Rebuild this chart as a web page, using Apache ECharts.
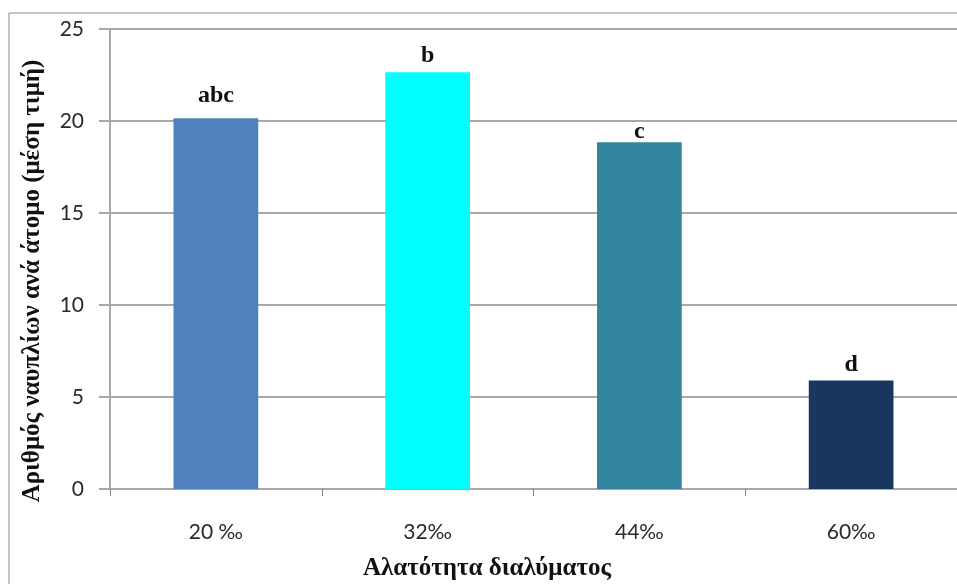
<!DOCTYPE html>
<html>
<head>
<meta charset="utf-8">
<script src="https://cdn.jsdelivr.net/npm/echarts@6/dist/echarts.min.js"></script>
<style>
html,body{margin:0;padding:0;background:#fff;}
#chart{width:957px;height:584px;}
</style>
</head>
<body>
<div id="chart"></div>
<script>
const categories = ['20 ‰', '32‰', '44‰', '60‰'];
const values = [20.15, 22.65, 18.85, 5.9];
const letters = ['abc', 'b', 'c', 'd'];
const colors = ['#4f81bd', '#00ffff', '#31849b', '#17375e'];
const yTicks = [0, 5, 10, 15, 20, 25];
const yTitle = 'Αριθμός ναυπλίων ανά άτομο (μέση τιμή)';
const xTitle = 'Αλατότητα διαλύματος';

const labelDistance = [10, 4, -2, 4];

const chart = echarts.init(document.getElementById('chart'), null, {renderer: 'canvas'});
const gridColor = '#a8a8a8';
chart.setOption({
  animation: false,
  backgroundColor: '#ffffff',
  grid: {left: 110, top: 29, width: 852, height: 460, containLabel: false},
  xAxis: {
    type: 'category',
    data: categories,
    boundaryGap: true,
    axisLine: {show: true, lineStyle: {color: gridColor, width: 2}},
    axisTick: {show: true, alignWithLabel: false, length: 7, lineStyle: {color: '#888', width: 1}},
    axisLabel: {margin: 33, fontFamily: 'Lato', fontSize: 21, color: '#2a2a2a'},
    splitLine: {show: false}
  },
  yAxis: {
    type: 'value',
    min: yTicks[0],
    max: yTicks[yTicks.length - 1],
    interval: yTicks[1] - yTicks[0],
    axisLine: {show: true, lineStyle: {color: gridColor, width: 2}},
    axisTick: {show: true, length: 11, lineStyle: {color: gridColor, width: 2}},
    axisLabel: {margin: 26, fontFamily: 'Lato', fontSize: 21, color: '#2a2a2a'},
    splitLine: {show: true, lineStyle: {color: gridColor, width: 2}}
  },
  series: [{
    type: 'bar',
    barWidth: '40%',
    data: values.map((v, i) => ({
      value: v,
      itemStyle: {color: colors[i]},
      label: {formatter: letters[i], distance: labelDistance[i]}
    })),
    label: {
      show: true,
      position: 'top',
      fontFamily: 'Liberation Serif',
      fontWeight: 'bold',
      fontSize: 24,
      color: '#111'
    }
  }],
  graphic: [
    {
      type: 'rect',
      shape: {x: 9, y: 13, width: 1200, height: 1200},
      style: {fill: 'none', stroke: '#8c8c8c', lineWidth: 1},
      silent: true,
      z: -1
    },
    {
      type: 'text',
      x: 487,
      y: 569,
      style: {
        text: xTitle,
        font: 'bold 25px "Liberation Serif"',
        fill: '#111',
        textAlign: 'center',
        textVerticalAlign: 'middle'
      }
    },
    {
      type: 'text',
      x: 33,
      y: 281,
      rotation: Math.PI / 2,
      style: {
        text: yTitle,
        font: 'bold 25px "Liberation Serif"',
        fill: '#111',
        textAlign: 'center',
        textVerticalAlign: 'middle'
      }
    }
  ]
});
</script>
</body>
</html>
